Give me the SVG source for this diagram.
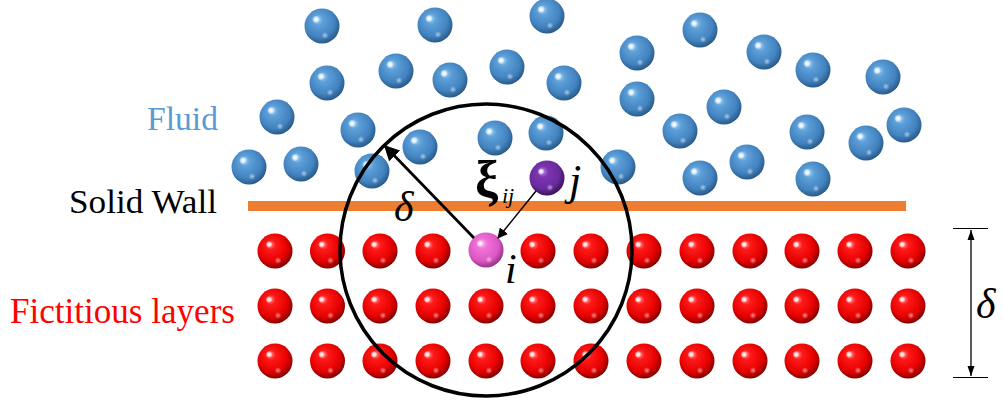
<svg xmlns="http://www.w3.org/2000/svg" xmlns:xlink="http://www.w3.org/1999/xlink" width="1004" height="410" viewBox="0 0 1004 410">
  <style>
    .conn { stroke: #000; fill: none; }
    text { font-family: "Liberation Serif", "Times New Roman", serif; }
    .it { font-style: italic; }
  </style>
  <defs>
    <!-- shaded sphere fills -->
    <radialGradient id="gBlue" cx="0.45" cy="0.42" r="0.62" fx="0.36" fy="0.3">
      <stop offset="0" stop-color="#a9d6f7"/>
      <stop offset="0.25" stop-color="#5d9fd8"/>
      <stop offset="0.7" stop-color="#4283c0"/>
      <stop offset="0.92" stop-color="#2c5f8f"/>
      <stop offset="1" stop-color="#1d4468"/>
    </radialGradient>
    <radialGradient id="gRed" cx="0.45" cy="0.42" r="0.62" fx="0.36" fy="0.3">
      <stop offset="0" stop-color="#ff9a9a"/>
      <stop offset="0.22" stop-color="#ff1a1a"/>
      <stop offset="0.68" stop-color="#e60000"/>
      <stop offset="0.9" stop-color="#9a0000"/>
      <stop offset="1" stop-color="#5a0000"/>
    </radialGradient>
    <radialGradient id="gPink" cx="0.45" cy="0.42" r="0.62" fx="0.36" fy="0.3">
      <stop offset="0" stop-color="#ffc8f0"/>
      <stop offset="0.25" stop-color="#f070d8"/>
      <stop offset="0.7" stop-color="#dc58c4"/>
      <stop offset="1" stop-color="#8a2a78"/>
    </radialGradient>
    <radialGradient id="gPurple" cx="0.45" cy="0.42" r="0.62" fx="0.36" fy="0.3">
      <stop offset="0" stop-color="#c890f0"/>
      <stop offset="0.25" stop-color="#7a35b0"/>
      <stop offset="0.7" stop-color="#6a2a9c"/>
      <stop offset="1" stop-color="#2e0e48"/>
    </radialGradient>
    <radialGradient id="gGlint">
      <stop offset="0" stop-color="#fff" stop-opacity="1"/>
      <stop offset="0.5" stop-color="#fff" stop-opacity="0.7"/>
      <stop offset="1" stop-color="#fff" stop-opacity="0"/>
    </radialGradient>
    <radialGradient id="gGlow">
      <stop offset="0" stop-color="#fff" stop-opacity="0.55"/>
      <stop offset="1" stop-color="#fff" stop-opacity="0"/>
    </radialGradient>

    <g id="ballBlue">
      <circle r="17.5" fill="url(#gBlue)"/>
      <circle cx="-6" cy="-6.5" r="4" fill="url(#gGlint)"/>
      <circle cx="3" cy="9.5" r="3.5" fill="url(#gGlow)"/>
    </g>
    <g id="ballRed">
      <circle r="17.5" fill="url(#gRed)"/>
      <circle cx="-6" cy="-6.5" r="3.5" fill="url(#gGlint)"/>
      <circle cx="3" cy="9.5" r="3.5" fill="url(#gGlow)"/>
    </g>

    <marker id="headBig" viewBox="0 0 10 10" refX="9" refY="5" markerWidth="5.5" markerHeight="5.5" orient="auto" markerUnits="strokeWidth">
      <path d="M0,0 L10,5 L0,10 z" fill="#000"/>
    </marker>
    <marker id="headThin" viewBox="0 0 10 10" refX="9" refY="5" markerWidth="7" markerHeight="7" orient="auto" markerUnits="strokeWidth">
      <path d="M0,0 L10,5 L0,10 z" fill="#000"/>
    </marker>
    <marker id="dimHead" viewBox="0 0 10 10" refX="10" refY="5" markerWidth="8" markerHeight="8" orient="auto" markerUnits="strokeWidth">
      <path d="M0,1.5 L10,5 L0,8.5 z" fill="#000"/>
    </marker>
  </defs>

  <rect width="1004" height="410" fill="#fff"/>

  <!-- fluid particles -->
  <g id="fluid">
    <use xlink:href="#ballBlue" x="322" y="26"/>
    <use xlink:href="#ballBlue" x="435" y="25"/>
    <use xlink:href="#ballBlue" x="547" y="16"/>
    <use xlink:href="#ballBlue" x="700" y="30"/>
    <use xlink:href="#ballBlue" x="637" y="53"/>
    <use xlink:href="#ballBlue" x="764" y="52"/>
    <use xlink:href="#ballBlue" x="396" y="71"/>
    <use xlink:href="#ballBlue" x="507" y="67"/>
    <use xlink:href="#ballBlue" x="327" y="83"/>
    <use xlink:href="#ballBlue" x="450" y="80"/>
    <use xlink:href="#ballBlue" x="564" y="83"/>
    <use xlink:href="#ballBlue" x="813" y="70"/>
    <use xlink:href="#ballBlue" x="883" y="77"/>
    <use xlink:href="#ballBlue" x="637" y="99"/>
    <use xlink:href="#ballBlue" x="724" y="107"/>
    <use xlink:href="#ballBlue" x="277" y="117"/>
    <use xlink:href="#ballBlue" x="358" y="130"/>
    <use xlink:href="#ballBlue" x="420" y="147"/>
    <use xlink:href="#ballBlue" x="495" y="138"/>
    <use xlink:href="#ballBlue" x="546" y="133"/>
    <use xlink:href="#ballBlue" x="680" y="131"/>
    <use xlink:href="#ballBlue" x="807" y="132"/>
    <use xlink:href="#ballBlue" x="866" y="143"/>
    <use xlink:href="#ballBlue" x="904" y="125"/>
    <use xlink:href="#ballBlue" x="249" y="167"/>
    <use xlink:href="#ballBlue" x="301" y="164"/>
    <use xlink:href="#ballBlue" x="372" y="171"/>
    <use xlink:href="#ballBlue" x="618" y="167"/>
    <use xlink:href="#ballBlue" x="747" y="162"/>
    <use xlink:href="#ballBlue" x="700" y="178"/>
    <use xlink:href="#ballBlue" x="813" y="179"/>
  </g>

  <!-- solid wall -->
  <g id="wall">
    <rect x="248" y="201" width="658" height="10" fill="#ed7d31"/>
  </g>

  <!-- fictitious particle layers -->
  <g id="layers">
    <g id="row1">
      <use xlink:href="#ballRed" x="275" y="251"/>
      <use xlink:href="#ballRed" x="327.5" y="251"/>
      <use xlink:href="#ballRed" x="380" y="251"/>
      <use xlink:href="#ballRed" x="433" y="251"/>
      <use xlink:href="#ballRed" x="538" y="251"/>
      <use xlink:href="#ballRed" x="591" y="251"/>
      <use xlink:href="#ballRed" x="644" y="251"/>
      <use xlink:href="#ballRed" x="697" y="251"/>
      <use xlink:href="#ballRed" x="750" y="251"/>
      <use xlink:href="#ballRed" x="802" y="251"/>
      <use xlink:href="#ballRed" x="855" y="251"/>
      <use xlink:href="#ballRed" x="908" y="251"/>
    </g>
    <g id="row2">
      <use xlink:href="#ballRed" x="275" y="306"/>
      <use xlink:href="#ballRed" x="327.5" y="306"/>
      <use xlink:href="#ballRed" x="380" y="306"/>
      <use xlink:href="#ballRed" x="433" y="306"/>
      <use xlink:href="#ballRed" x="486" y="306"/>
      <use xlink:href="#ballRed" x="538" y="306"/>
      <use xlink:href="#ballRed" x="591" y="306"/>
      <use xlink:href="#ballRed" x="644" y="306"/>
      <use xlink:href="#ballRed" x="697" y="306"/>
      <use xlink:href="#ballRed" x="750" y="306"/>
      <use xlink:href="#ballRed" x="802" y="306"/>
      <use xlink:href="#ballRed" x="855" y="306"/>
      <use xlink:href="#ballRed" x="908" y="306"/>
    </g>
    <g id="row3">
      <use xlink:href="#ballRed" x="275" y="361"/>
      <use xlink:href="#ballRed" x="327.5" y="361"/>
      <use xlink:href="#ballRed" x="380" y="361"/>
      <use xlink:href="#ballRed" x="433" y="361"/>
      <use xlink:href="#ballRed" x="486" y="361"/>
      <use xlink:href="#ballRed" x="538" y="361"/>
      <use xlink:href="#ballRed" x="591" y="361"/>
      <use xlink:href="#ballRed" x="644" y="361"/>
      <use xlink:href="#ballRed" x="697" y="361"/>
      <use xlink:href="#ballRed" x="750" y="361"/>
      <use xlink:href="#ballRed" x="802" y="361"/>
      <use xlink:href="#ballRed" x="855" y="361"/>
      <use xlink:href="#ballRed" x="908" y="361"/>
    </g>
  </g>

  <!-- particle i (wall layer) -->
  <g id="particle-i">
    <circle cx="486" cy="250" r="17.5" fill="url(#gPink)"/>
    <circle cx="480" cy="243.5" r="3.5" fill="url(#gGlint)"/>
    <circle cx="489" cy="259.5" r="3.5" fill="url(#gGlow)"/>
    <text class="it" x="505" y="283" font-size="42">i</text>
  </g>

  <!-- particle j (fluid) -->
  <g id="particle-j">
    <circle cx="547" cy="178" r="17.5" fill="url(#gPurple)"/>
    <circle cx="541" cy="171.5" r="3.5" fill="url(#gGlint)"/>
    <circle cx="550" cy="187.5" r="3.5" fill="url(#gGlow)"/>
    <text class="it" x="569" y="195" font-size="44">j</text>
  </g>

  <!-- support domain of i and connectors -->
  <g id="connectors">
    <circle class="conn" cx="486" cy="250" r="146" stroke-width="3.5"/>
    <line class="conn" x1="474" y1="238" x2="385" y2="146" stroke-width="2.8" marker-end="url(#headBig)"/>
    <line class="conn" x1="536" y1="191" x2="498" y2="238" stroke-width="1.5" marker-end="url(#headThin)"/>
    <!-- thickness dimension -->
    <line class="conn" x1="953" y1="228.5" x2="988" y2="228.5" stroke-width="1.2"/>
    <line class="conn" x1="953" y1="377.5" x2="988" y2="377.5" stroke="#555" stroke-width="1.2"/>
    <line class="conn" x1="971" y1="300" x2="971" y2="230" stroke-width="1.3" marker-end="url(#dimHead)"/>
    <line class="conn" x1="971" y1="300" x2="971" y2="376" stroke-width="1.3" marker-end="url(#dimHead)"/>
  </g>

  <!-- labels -->
  <g id="labels">
    <text x="147" y="130" font-size="34" fill="#5b9bd5" textLength="71" lengthAdjust="spacingAndGlyphs">Fluid</text>
    <text x="69" y="213" font-size="34" fill="#000" textLength="148" lengthAdjust="spacingAndGlyphs">Solid Wall</text>
    <text x="10" y="323" font-size="35" fill="#ff0000" textLength="225" lengthAdjust="spacingAndGlyphs">Fictitious layers</text>
    <text class="it" x="394" y="221" font-size="42">δ</text>
    <text x="475" y="197" font-size="52" font-weight="bold">ξ</text>
    <text class="it" x="502" y="203" font-size="22">ij</text>
    <text class="it" x="976" y="318" font-size="42">δ</text>
  </g>
</svg>
